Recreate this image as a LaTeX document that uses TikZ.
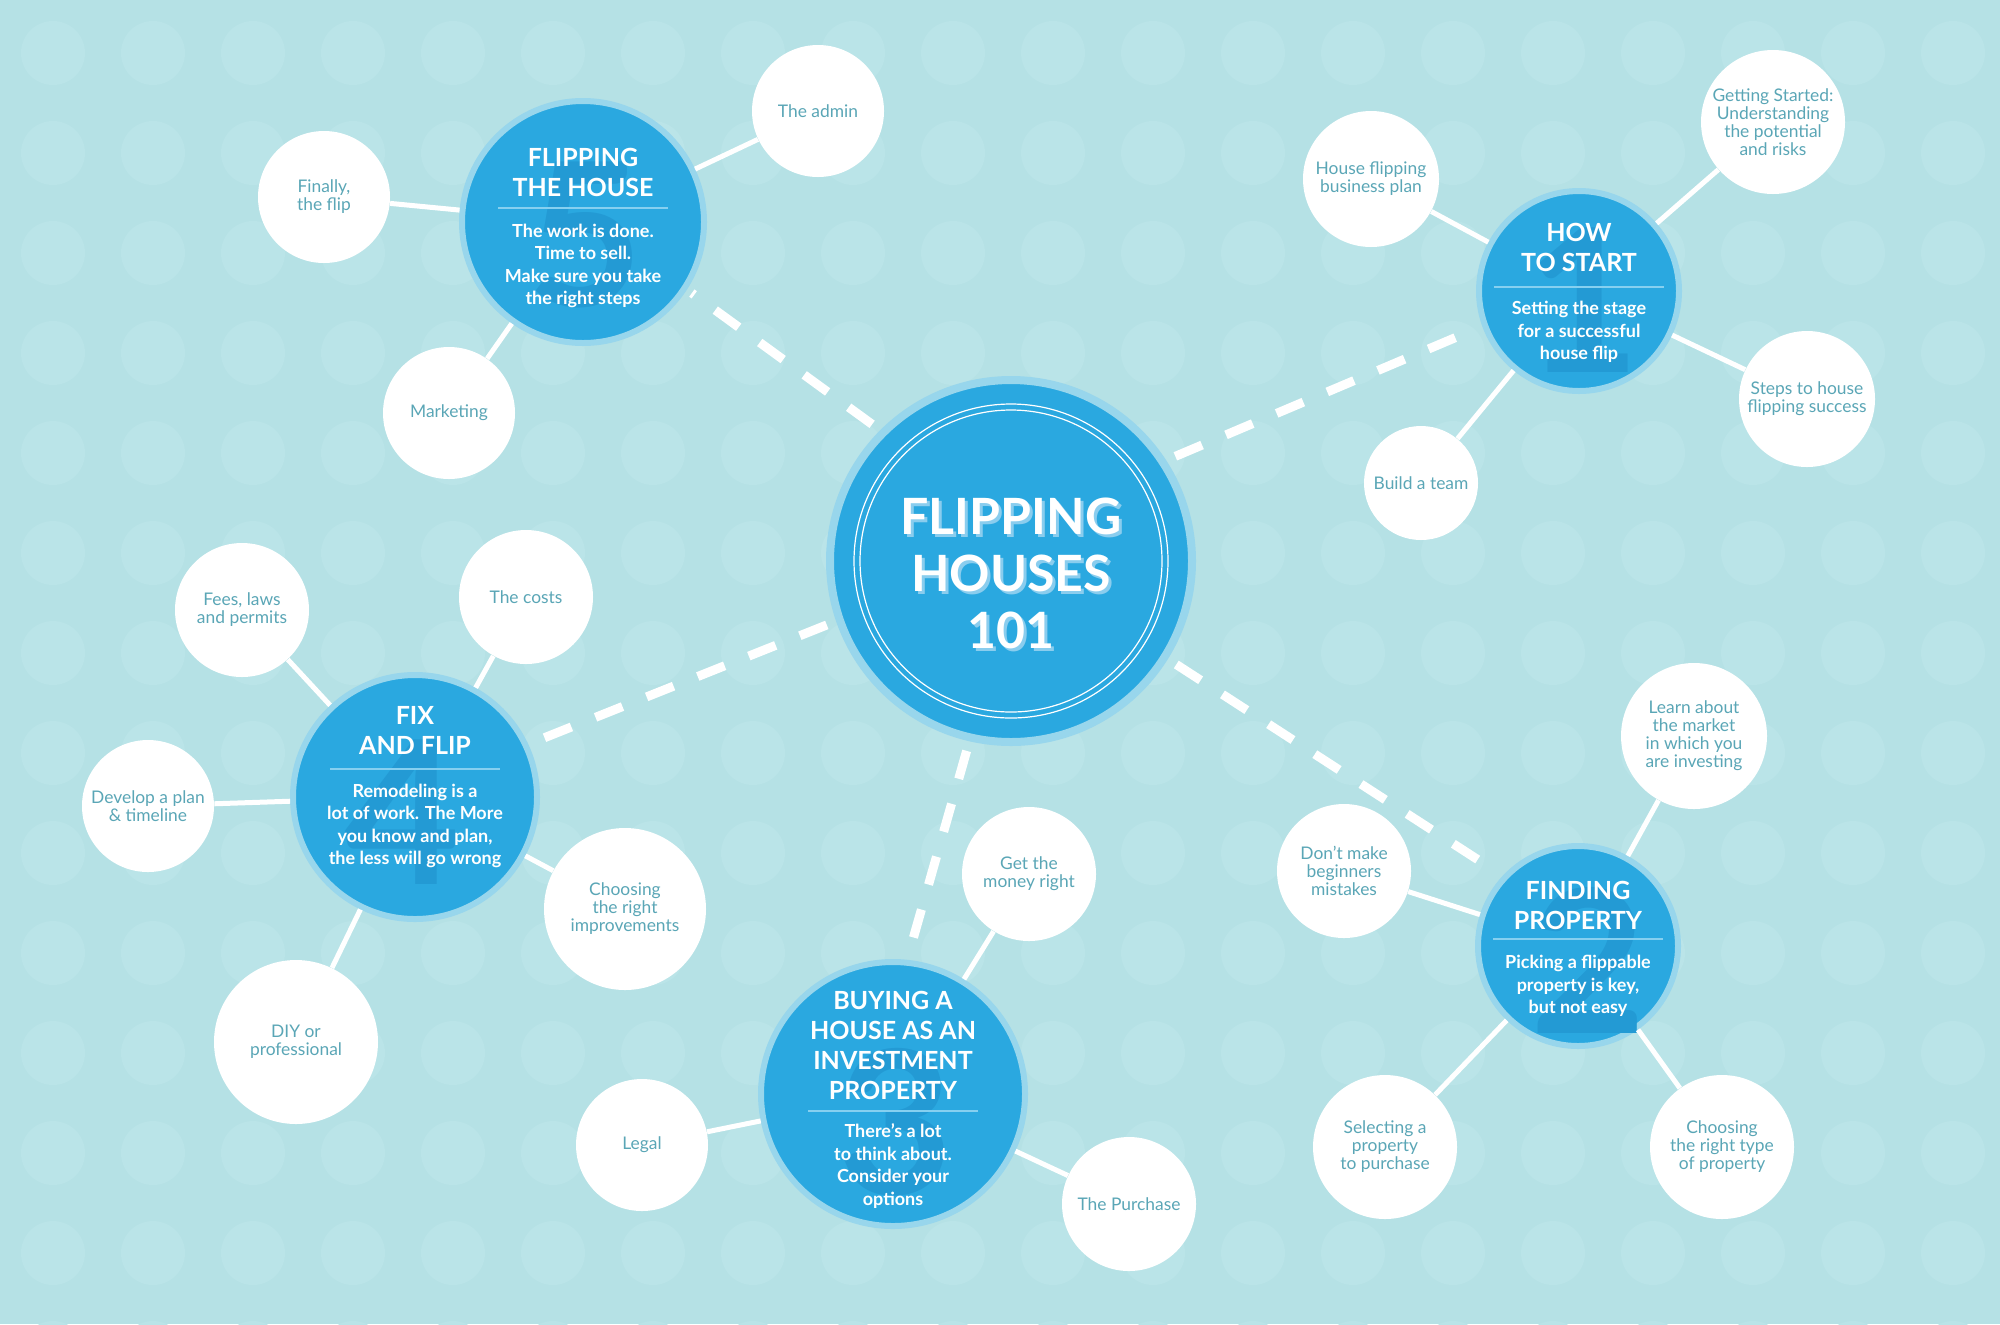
\documentclass[tikz,border=0pt]{standalone}
\usepackage{fontspec}
\setmainfont{Lato}
\usetikzlibrary{calc}
\definecolor{bg}{HTML}{B5E1E5}
\definecolor{bgdot}{HTML}{BAE4E8}
\definecolor{secblue}{HTML}{2AA8E0}
\definecolor{halo}{HTML}{98D6EC}
\definecolor{leaftext}{HTML}{5AA6B6}
\definecolor{digit}{HTML}{239AD4}
\definecolor{sepline}{HTML}{86D0F0}
\definecolor{titleshadow}{HTML}{8ACDEE}
\begin{document}
\begin{tikzpicture}[x=0.5pt,y=-0.5pt,
  hubnode/.style={circle, fill=secblue, draw=halo, line width=4pt, minimum size=#1, inner sep=0pt},
  secnode/.style={circle, fill=secblue, draw=halo, line width=3pt, minimum size=#1, inner sep=0pt},
  leafnode/.style={circle, fill=white, minimum size=#1, inner sep=0pt, text=leaftext, align=center, font=\fontsize{8.7}{9}\selectfont},
  dsh/.style={draw=white, line width=4.5pt, dash pattern=on 14.5pt off 13pt, shorten <=5pt, shorten >=3pt},
  link/.style={draw=white, line width=2.5pt},
  hubtitle/.style={text=white, align=center, font=\bfseries\fontsize{25}{28.5}\selectfont, inner sep=0pt},
  sectitle/.style={text=white, align=center, font=\bfseries\fontsize{12.5}{15}\selectfont, inner sep=0pt},
  secbody/.style={text=white, align=center, font=\bfseries\fontsize{9}{11.25}\selectfont, inner sep=0pt},
  bigdigit/.style={text=digit, font=\bfseries\fontsize{100}{100}\selectfont, inner sep=0pt},
  sepl/.style={draw=sepline, line width=0.6pt}
]
\useasboundingbox (0,0) rectangle (2000,1324);
\begin{scope}
\clip (0,0) rectangle (2000,1324);
\fill[bg] (0,0) rectangle (2000,1324);
\foreach \i in {0,...,19} {
  \foreach \j in {0,...,13} {
    \fill[bgdot] (53+100*\i, 53+100*\j) circle (16pt);
  }
}
\end{scope}

% ---------- hub ----------
\node[hubnode=181pt] (hub) at (1011,561) {};
\draw[white, line width=0.6pt] (hub.center) circle (78.5pt);
\draw[white, line width=0.6pt] (hub.center) circle (75.5pt);
\node[hubtitle, text=titleshadow] (hubshadow) at (1014,576) {FLIPPING\\HOUSES\\101};
\node[hubtitle] (hubtext) at (1011,573) {FLIPPING\\HOUSES\\101};

% ---------- sections ----------
\node[secnode=121pt] (s5) at (583,222) {};
\node[secnode=100pt] (s1) at (1579,291) {};
\node[secnode=122pt] (s4) at (415,797) {};
\node[secnode=132pt] (s3) at (893,1094) {};
\node[secnode=100pt] (s2) at (1578,946) {};

\node[bigdigit] (d5) at (585,235) {5};
\node[bigdigit] (d1) at (1582,300) {1};
\node[bigdigit] (d4) at (402,812) {4};
\node[bigdigit] (d3) at (895,1122) {3};
\node[bigdigit] (d2) at (1588,960) {2};

\node[sectitle] (t5) at ($(s5)+(0,-50)$) {FLIPPING\\THE HOUSE};
\draw[sepl] ($(s5)+(-85,-14)$) -- ($(s5)+(85,-14)$);
\node[secbody] (b5) at ($(s5)+(0,44)$) {The work is done.\\Time to sell.\\Make sure you take\\the right steps};

\node[sectitle] (t1) at ($(s1)+(0,-44)$) {HOW\\TO START};
\draw[sepl] ($(s1)+(-85,-4)$) -- ($(s1)+(85,-4)$);
\node[secbody] (b1) at ($(s1)+(0,41)$) {Setting the stage\\for a successful\\house flip};

\node[sectitle] (t4) at ($(s4)+(0,-67)$) {FIX\\AND FLIP};
\draw[sepl] ($(s4)+(-85,-28)$) -- ($(s4)+(85,-28)$);
\node[secbody] (b4) at ($(s4)+(0,29)$) {Remodeling is a\\lot of work. The More\\you know and plan,\\the less will go wrong};

\node[sectitle] (t3) at ($(s3)+(0,-49)$) {BUYING A\\HOUSE AS AN\\INVESTMENT\\PROPERTY};
\draw[sepl] ($(s3)+(-85,17)$) -- ($(s3)+(85,17)$);
\node[secbody] (b3) at ($(s3)+(0,72)$) {There’s a lot\\to think about.\\Consider your\\options};

\node[sectitle] (t2) at ($(s2)+(0,-41)$) {FINDING\\PROPERTY};
\draw[sepl] ($(s2)+(-85,-7)$) -- ($(s2)+(85,-7)$);
\node[secbody] (b2) at ($(s2)+(0,40)$) {Picking a flippable\\property is key,\\but not easy};

% ---------- leaves ----------
\node[leafnode=66pt] (admin) at (818,111) {The admin};
\node[leafnode=66pt] (finally) at (324,197) {Finally,\\the flip};
\node[leafnode=66pt] (marketing) at (449,413) {Marketing};

\node[leafnode=68pt] (bizplan) at (1371,179) {House flipping\\business plan};
\node[leafnode=72pt] (getting) at (1773,122) {Getting Started:\\Understanding\\the potential\\and risks};
\node[leafnode=68pt] (steps) at (1807,399) {Steps to house\\flipping success};
\node[leafnode=57pt] (team) at (1421,483) {Build a team};

\node[leafnode=67pt] (fees) at (242,610) {Fees, laws\\and permits};
\node[leafnode=67pt] (costs) at (526,597) {The costs};
\node[leafnode=66pt] (develop) at (148,806) {Develop a plan\\\& timeline};
\node[leafnode=81pt] (improve) at (625,909) {Choosing\\the right\\improvements};
\node[leafnode=82pt] (diy) at (296,1042) {DIY or\\professional};

\node[leafnode=67pt] (money) at (1029,874) {Get the\\money right};
\node[leafnode=66pt] (legal) at (642,1145) {Legal};
\node[leafnode=67pt] (purchase) at (1129,1204) {The Purchase};

\node[leafnode=73pt] (learn) at (1694,736) {Learn about\\the market\\in which you\\are investing};
\node[leafnode=67pt] (mistakes) at (1344,871) {Don’t make\\beginners\\mistakes};
\node[leafnode=72pt] (selecting) at (1385,1147) {Selecting a\\property\\to purchase};
\node[leafnode=72pt] (choosetype) at (1722,1147) {Choosing\\the right type\\of property};

% ---------- connectors ----------
\draw[dsh] (hub.33) -- (s1.200);
\draw[dsh] (hub.135) -- (s5.-33);
\draw[dsh] (hub.199) -- (s4.25);
\draw[dsh] (hub.-103) -- (s3.84);
\draw[dsh] (hub.-32) -- (s2.137);

\draw[link] (s5) -- (admin);
\draw[link] (s5) -- (finally);
\draw[link] (s5) -- (marketing);

\draw[link] (s1) -- (bizplan);
\draw[link] (s1) -- (getting);
\draw[link] (s1) -- (steps);
\draw[link] (s1) -- (team);

\draw[link] (s4) -- (fees);
\draw[link] (s4) -- (costs);
\draw[link] (s4) -- (develop);
\draw[link] (s4) -- (improve);
\draw[link] (s4) -- (diy);

\draw[link] (s3) -- (money);
\draw[link] (s3) -- (legal);
\draw[link] (s3) -- (purchase);

\draw[link] (s2) -- (learn);
\draw[link] (s2) -- (mistakes);
\draw[link] (s2) -- (selecting);
\draw[link] (s2) -- (choosetype);
\end{tikzpicture}
\end{document}
